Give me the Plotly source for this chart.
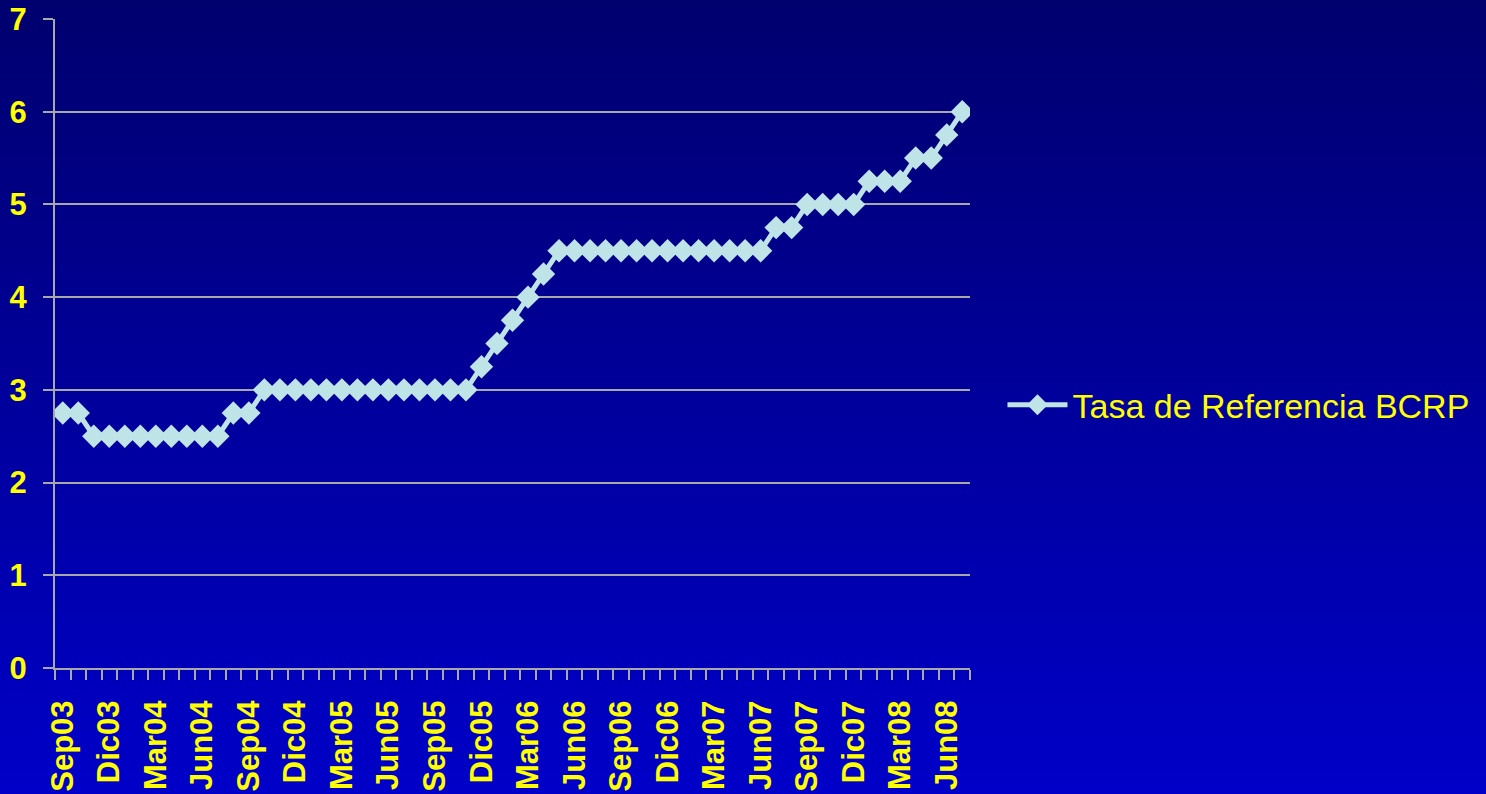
import plotly.graph_objects as go

# ---- data ----
categories = [
    "Sep03", "Oct03", "Nov03", "Dic03", "Ene04", "Feb04", "Mar04", "Abr04", "May04", "Jun04",
    "Jul04", "Ago04", "Sep04", "Oct04", "Nov04", "Dic04", "Ene05", "Feb05", "Mar05", "Abr05",
    "May05", "Jun05", "Jul05", "Ago05", "Sep05", "Oct05", "Nov05", "Dic05", "Ene06", "Feb06",
    "Mar06", "Abr06", "May06", "Jun06", "Jul06", "Ago06", "Sep06", "Oct06", "Nov06", "Dic06",
    "Ene07", "Feb07", "Mar07", "Abr07", "May07", "Jun07", "Jul07", "Ago07", "Sep07", "Oct07",
    "Nov07", "Dic07", "Ene08", "Feb08", "Mar08", "Abr08", "May08", "Jun08", "Jul08",
]
tasa = [
    2.75, 2.75, 2.5, 2.5, 2.5, 2.5, 2.5, 2.5, 2.5, 2.5,
    2.5, 2.75, 2.75, 3.0, 3.0, 3.0, 3.0, 3.0, 3.0, 3.0,
    3.0, 3.0, 3.0, 3.0, 3.0, 3.0, 3.0, 3.25, 3.5, 3.75,
    4.0, 4.25, 4.5, 4.5, 4.5, 4.5, 4.5, 4.5, 4.5, 4.5,
    4.5, 4.5, 4.5, 4.5, 4.5, 4.5, 4.75, 4.75, 5.0, 5.0,
    5.0, 5.0, 5.25, 5.25, 5.25, 5.5, 5.5, 5.75, 6.0,
]
label_every = 3
tick_text = [c if i % label_every == 0 else "" for i, c in enumerate(categories)]
y_ticks = [0, 1, 2, 3, 4, 5, 6, 7]
series_name = "Tasa de Referencia BCRP"

# ---- style ----
LINE = "#BFE4E8"
YELLOW = "#FFFF00"
GRID = "#A8A8A8"
TICKFONT = dict(family="Liberation Sans, Arial, sans-serif", size=31, color=YELLOW, weight="bold")

fig = go.Figure()
fig.add_trace(go.Scatter(
    x=categories, y=tasa, name=series_name, mode="lines+markers",
    line=dict(color=LINE, width=5),
    marker=dict(symbol="diamond", size=18, color=LINE, line=dict(width=0)),
))

# vertical gradient background (dark navy at top -> brighter blue at bottom)
n_strips = 60
shapes = []
y0_paper, y1_paper = -0.2, 1.04
for k in range(n_strips):
    t = k / (n_strips - 1)
    b = int(round(200 - t * (200 - 110)))
    ya = y0_paper + (y1_paper - y0_paper) * k / n_strips
    yb = y0_paper + (y1_paper - y0_paper) * (k + 1) / n_strips
    shapes.append(dict(type="rect", xref="paper", yref="paper", x0=-0.1, x1=1.6,
                       y0=ya, y1=yb + 0.002, fillcolor=f"rgb(0,0,{b})",
                       line=dict(width=0), layer="below"))

fig.update_layout(
    width=1486, height=794,
    margin=dict(l=55, r=516, t=19, b=126, autoexpand=False),
    paper_bgcolor="rgb(0,0,150)",
    plot_bgcolor="rgba(0,0,0,0)",
    shapes=shapes,
    showlegend=True,
    legend=dict(x=1.0355, y=0.405, xanchor="left", yanchor="middle",
                font=dict(family="Liberation Sans, Arial, sans-serif", size=34, color=YELLOW),
                itemwidth=60, bgcolor="rgba(0,0,0,0)"),
    xaxis=dict(
        type="category", tickmode="array", tickvals=categories, ticktext=tick_text,
        tickson="boundaries", ticks="outside", ticklen=10, tickwidth=2, tickcolor=GRID,
        tickangle=-90, tickfont=TICKFONT, showgrid=False, ticklabelstandoff=18,
        showline=True, linecolor=GRID, linewidth=2, range=[-0.5, len(categories) - 0.5],
    ),
    yaxis=dict(
        range=[0, 7], tickvals=y_ticks, ticks="outside", ticklen=10, tickwidth=2, tickcolor=GRID,
        tickfont=TICKFONT, showgrid=True, gridcolor=GRID, gridwidth=2,
        showline=True, linecolor=GRID, linewidth=2, zeroline=False, ticklabelstandoff=10,
    ),
)

fig.write_html("out.html", config={"displayModeBar": False},
               post_script="document.body.style.margin='0';document.body.style.overflow='hidden';")
